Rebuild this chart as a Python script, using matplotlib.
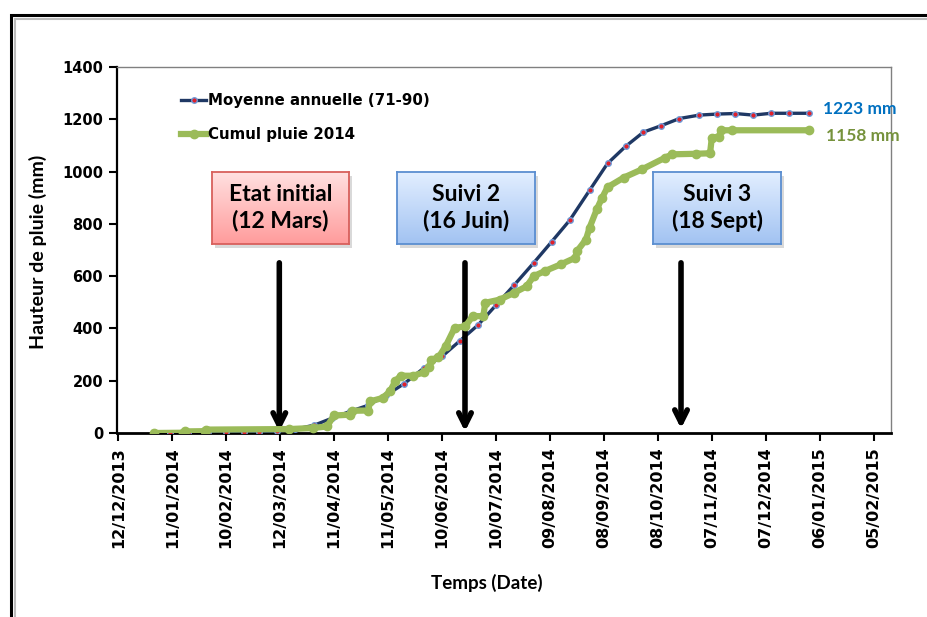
import matplotlib
matplotlib.use('Agg')
import matplotlib.pyplot as plt
import matplotlib.dates as mdates
from matplotlib.colors import LinearSegmentedColormap
from matplotlib.patches import Rectangle
import numpy as np
import pandas as pd

# moyenne decadaire cumulee 1971-1990
moy_dates = ['2014-01-01', '2014-01-10', '2014-01-20', '2014-01-31', '2014-02-10',
             '2014-02-20', '2014-02-28', '2014-03-10', '2014-03-20', '2014-03-31',
             '2014-04-10', '2014-04-20', '2014-04-30', '2014-05-10', '2014-05-20',
             '2014-05-31', '2014-06-10', '2014-06-20', '2014-06-30', '2014-07-10',
             '2014-07-20', '2014-07-31', '2014-08-10', '2014-08-20', '2014-08-31',
             '2014-09-10', '2014-09-20', '2014-09-30', '2014-10-10', '2014-10-20',
             '2014-10-31', '2014-11-10', '2014-11-20', '2014-11-30', '2014-12-10',
             '2014-12-20', '2014-12-31']
moy_vals = [0, 0, 1, 2, 3, 4, 5, 7, 14, 30, 57, 83, 106, 145, 189, 249, 293, 353,
            413, 489, 565, 651, 732, 814, 928, 1031, 1096, 1151, 1176, 1203, 1216,
            1220, 1222, 1216, 1223, 1223, 1223]

# cumul journalier 2014
pluie_dates = ['2014-01-01', '2014-01-17', '2014-01-18', '2014-01-29', '2014-01-30',
               '2014-03-17', '2014-03-30', '2014-04-07', '2014-04-11', '2014-04-20',
               '2014-04-21', '2014-04-30', '2014-05-01', '2014-05-08', '2014-05-12',
               '2014-05-15', '2014-05-18', '2014-05-25', '2014-05-31', '2014-06-03',
               '2014-06-04', '2014-06-08', '2014-06-12', '2014-06-17', '2014-06-23',
               '2014-06-27', '2014-07-03', '2014-07-04', '2014-07-12', '2014-07-20',
               '2014-07-27', '2014-07-31', '2014-08-06', '2014-08-15', '2014-08-23',
               '2014-08-24', '2014-08-29', '2014-08-31', '2014-09-04', '2014-09-07',
               '2014-09-10', '2014-09-19', '2014-09-29', '2014-10-12', '2014-10-16',
               '2014-10-29', '2014-11-06', '2014-11-07', '2014-11-11', '2014-11-12',
               '2014-11-18', '2014-12-31']
pluie_vals = [0, 1, 6, 7, 13, 15, 19, 25, 67, 70, 85, 86, 121, 134, 159, 198, 219,
              219, 232, 252, 281, 289, 332, 402, 408, 447, 447, 498, 510, 536, 561,
              600, 619, 645, 670, 695, 740, 785, 855, 900, 940, 977, 1008, 1053,
              1066, 1068, 1070, 1130, 1134, 1158, 1158, 1158]

tick_dates = pd.date_range('2013-12-12', periods=15, freq='30D')

boites = [('Etat initial\n(12 Mars)', 'rouge'),
          ('Suivi 2\n(16 Juin)', 'bleu'),
          ('Suivi 3\n(18 Sept)', 'bleu')]

W, H = 927, 617
fig = plt.figure(figsize=(W / 100, H / 100), dpi=100)
ax = fig.add_axes([117 / W, 1 - 433 / H, 774 / W, 366 / H])

x_moy = pd.to_datetime(moy_dates)
x_pl = pd.to_datetime(pluie_dates)

ax.plot(x_moy, moy_vals, color='#1F3864', lw=2.4, marker='o', ms=4,
        mfc='#E0202A', mec='#6F9BD8', mew=1.0, zorder=3,
        label='Moyenne annuelle (71-90)')
ax.plot(x_pl, pluie_vals, color='#9BBB59', lw=4.5, marker='o', ms=6,
        mfc='#9BBB59', mec='#9BBB59', zorder=4, label='Cumul pluie 2014')

ax.annotate('1223 mm', (x_moy[-1], moy_vals[-1]), xytext=(14, 4),
            textcoords='offset pixels', ha='left', va='center', color='#0070C0',
            fontsize=12.5, fontweight='bold', family='Lato', annotation_clip=False)
ax.annotate('1158 mm', (x_pl[-1], pluie_vals[-1]), xytext=(17, -6),
            textcoords='offset pixels', ha='left', va='center', color='#76923C',
            fontsize=12.5, fontweight='bold', family='Lato', annotation_clip=False)

ax.set_xlim(mdates.date2num(pd.Timestamp('2013-12-12')) - 0.7,
            mdates.date2num(pd.Timestamp('2015-02-14')) + 0.6)
ax.set_ylim(0, 1400)
ax.set_yticks(np.arange(0, 1401, 200))
ax.set_xticks(tick_dates)
ax.xaxis.set_major_formatter(mdates.DateFormatter('%d/%m/%Y'))
ax.tick_params(axis='x', direction='out', length=6, width=1.5, rotation=90,
               labelsize=11.5, pad=4)
ax.tick_params(axis='y', direction='out', length=6, width=1.5, labelsize=10.5, pad=4)
for lab in ax.get_xticklabels() + ax.get_yticklabels():
    lab.set_fontweight('bold')

ax.spines['left'].set_linewidth(1.6)
ax.spines['bottom'].set_linewidth(2)
for s in ('top', 'right'):
    ax.spines[s].set_color('#808080')
    ax.spines[s].set_linewidth(1)

leg = ax.legend(loc='upper left', bbox_to_anchor=(0.065, 0.965), frameon=False,
                handlelength=1.7, handletextpad=0.1, labelspacing=1.25,
                prop={'weight': 'bold', 'size': 10.8})

# fleches des dates de suivi
for xa, ya in [(0.2097, 0.004), (0.4496, 0.004), (0.7287, 0.012)]:
    ax.annotate('', xy=(xa, ya), xytext=(xa, 0.465), xycoords='axes fraction',
                arrowprops=dict(arrowstyle='->,head_length=0.9,head_width=0.45',
                                lw=4, color='black', shrinkA=0, shrinkB=0))

fig.text(38 / W, 1 - 252 / H, 'Hauteur de pluie (mm)', rotation=90, ha='center',
         va='center', fontsize=14, fontweight='bold', family='Lato')
fig.text(487 / W, 1 - 583 / H, 'Temps (Date)', ha='center', va='center',
         fontsize=13.5, fontweight='bold', family='Lato')

# boites de texte en degrade
couleurs = {'rouge': ('#FFE0E0', '#FF9C9C', '#D8605C'),
            'bleu': ('#E2EEFF', '#A2C3F2', '#5B8ED0')}
rects = [(212, 172, 137, 72), (397, 172, 138, 72), (653, 172, 128, 72)]
for (txt, c), (x0, y0, w, h) in zip(boites, rects):
    haut, bas, bord = couleurs[c]
    ombre = Rectangle(((x0 + 3) / W, 1 - (y0 + h + 4) / H), w / W, h / H,
                      transform=fig.transFigure, color='#000000', alpha=0.15, lw=0)
    ombre.set_zorder(2)
    fig.add_artist(ombre)
    bx = fig.add_axes([x0 / W, 1 - (y0 + h) / H, w / W, h / H])
    bx.set_zorder(5)
    cmap = LinearSegmentedColormap.from_list(c, [haut, bas])
    bx.imshow(np.linspace(0, 1, 64).reshape(-1, 1), aspect='auto', cmap=cmap,
              extent=[0, 1, 0, 1], origin='upper')
    bx.set_xticks([])
    bx.set_yticks([])
    for s in bx.spines.values():
        s.set_color(bord)
        s.set_linewidth(1.3)
    bx.text(0.5, 0.5, txt, ha='center', va='center', fontsize=16.5,
            fontweight='bold', family='Lato', linespacing=1.25,
            transform=bx.transAxes)

# cadre exterieur
fig.add_artist(Rectangle((11 / W, -0.1), 1.2, 1.1 - 15 / H, transform=fig.transFigure,
                         fill=False, ec='black', lw=2.2, zorder=6))
fig.add_artist(Rectangle((14.5 / W, -0.1), 1.2, 1.1 - 18.5 / H,
                         transform=fig.transFigure, fill=False, ec='#BBBBBB', lw=1.5,
                         zorder=6))

fig.savefig('out.png', dpi=100)
